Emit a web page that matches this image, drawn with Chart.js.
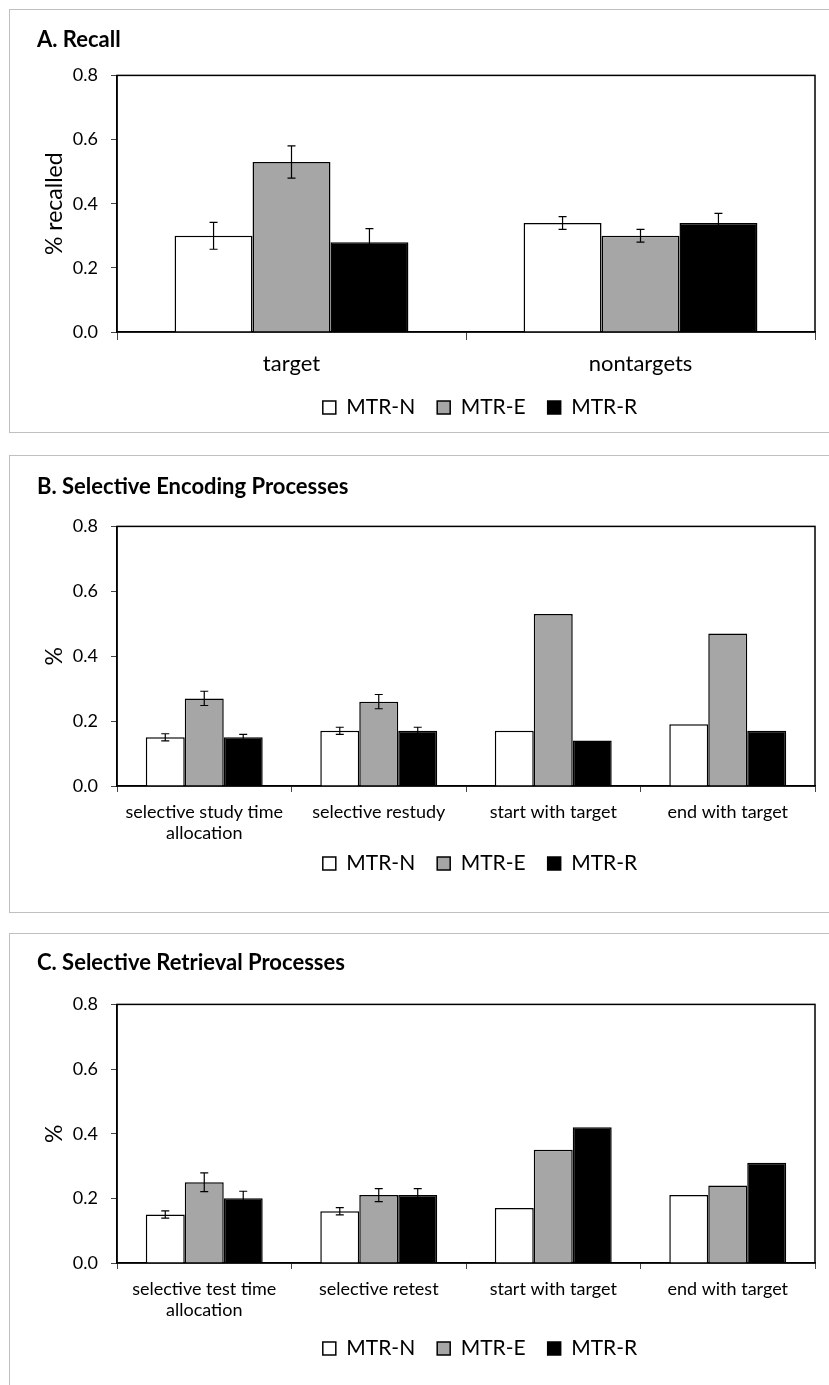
<!DOCTYPE html>
<html>
<head>
<meta charset="utf-8">
<script src="https://cdn.jsdelivr.net/npm/chart.js@4.4.1/dist/chart.umd.min.js"></script>
<style>
html, body { margin: 0; padding: 0; background: #fff; overflow: hidden; width: 829px; height: 1385px; }
.box { position: absolute; left: 9px; width: 900px; border: 1.5px solid #c0c0c0; box-sizing: border-box; }
canvas { position: absolute; left: 10px; }
</style>
</head>
<body>
<div class="box" style="top:9px;height:424px"></div>
<canvas id="chartA" width="930" height="423" style="top:9px"></canvas>
<div class="box" style="top:455px;height:458px"></div>
<canvas id="chartB" width="930" height="457" style="top:455px"></canvas>
<div class="box" style="top:933px;height:470px"></div>
<canvas id="chartC" width="930" height="452" style="top:933px"></canvas>
<script>
const groups = ['MTR-N', 'MTR-E', 'MTR-R'];
const yTicks = [0, 0.2, 0.4, 0.6, 0.8];

// A. Recall
const recallCats = ['target', 'nontargets'];
const recallN = [0.30, 0.34];
const recallE = [0.53, 0.30];
const recallR = [0.28, 0.34];
const recallErrN = [0.042, 0.02];
const recallErrE = [0.05, 0.02];
const recallErrR = [0.042, 0.03];

// B. Selective Encoding Processes
const encodeCats = [['selective study time', 'allocation'], 'selective restudy', 'start with target', 'end with target'];
const encodeN = [0.15, 0.17, 0.17, 0.19];
const encodeE = [0.27, 0.26, 0.53, 0.47];
const encodeR = [0.15, 0.17, 0.14, 0.17];
const encodeErrN = [0.011, 0.011, null, null];
const encodeErrE = [0.022, 0.022, null, null];
const encodeErrR = [0.009, 0.011, null, null];

// C. Selective Retrieval Processes
const retrieveCats = [['selective test time', 'allocation'], 'selective retest', 'start with target', 'end with target'];
const retrieveN = [0.15, 0.16, 0.17, 0.21];
const retrieveE = [0.25, 0.21, 0.35, 0.24];
const retrieveR = [0.20, 0.21, 0.42, 0.31];
const retrieveErrN = [0.011, 0.011, null, null];
const retrieveErrE = [0.029, 0.02, null, null];
const retrieveErrR = [0.022, 0.02, null, null];

const fills = ['#ffffff', '#a6a6a6', '#000000'];

Chart.defaults.font.family = 'Lato, "Open Sans", sans-serif';
Chart.defaults.color = '#1a1a1a';

// frame around the plot area, like the excel chart
const plotFrame = {
    id: 'plotFrame',
    beforeDatasetsDraw(chart) {
        const {left, top, right, bottom} = chart.chartArea;
        const ctx = chart.ctx;
        ctx.save();
        ctx.strokeStyle = '#000';
        ctx.lineWidth = 1.5;
        ctx.strokeRect(left, top, right - left, bottom - top);
        ctx.restore();
    }
};

const errorBars = {
    id: 'errorBars',
    afterDatasetsDraw(chart) {
        const ctx = chart.ctx;
        const y = chart.scales.y;
        chart.data.datasets.forEach((ds, di) => {
            if (!ds.errors) return;
            chart.getDatasetMeta(di).data.forEach((bar, i) => {
                const e = ds.errors[i];
                if (e == null) return;
                const v = ds.data[i];
                const top = y.getPixelForValue(v + e);
                const bot = y.getPixelForValue(v - e);
                ctx.save();
                ctx.strokeStyle = '#000';
                ctx.lineWidth = 1.2;
                ctx.beginPath();
                ctx.moveTo(bar.x, top); ctx.lineTo(bar.x, bot);
                ctx.moveTo(bar.x - 4, top); ctx.lineTo(bar.x + 4, top);
                ctx.moveTo(bar.x - 4, bot); ctx.lineTo(bar.x + 4, bot);
                ctx.stroke();
                ctx.restore();
            });
        });
    }
};

// nudge the legend up/down after layout (x labels need their full height)
const legendShift = {
    id: 'legendShift',
    afterLayout(chart, args, opts) {
        const l = chart.legend;
        if (!l || !opts.dy) return;
        l.top += opts.dy;
        l.bottom += opts.dy;
    }
};

function makeChart(id, p) {
    return new Chart(document.getElementById(id), {
        type: 'bar',
        data: {
            labels: p.labels,
            datasets: groups.map((g, i) => ({
                label: g,
                data: p.values[i],
                errors: p.errors[i],
                backgroundColor: fills[i],
                borderColor: '#000',
                borderWidth: 1.5,
                categoryPercentage: 0.67,
                barPercentage: 1.0
            }))
        },
        options: {
            responsive: false,
            animation: false,
            layout: { padding: { left: 27, right: 17, top: 0, bottom: p.padBottom } },
            plugins: {
                title: {
                    display: true,
                    text: p.title,
                    align: 'start',
                    color: '#000',
                    font: { size: 22, weight: 'bold', lineHeight: 1.2 },
                    padding: p.titlePad
                },
                legend: {
                    position: 'bottom',
                    labels: {
                        boxWidth: 13,
                        boxHeight: 13,
                        padding: 22,
                        color: '#000',
                        font: { size: 21 }
                    }
                },
                legendShift: { dy: p.legendDy },
                tooltip: { enabled: false }
            },
            scales: {
                x: {
                    grid: { offset: true, drawOnChartArea: false, tickLength: p.tickLen, color: '#444' },
                    border: { color: '#000', width: 1.5 },
                    ticks: {
                        autoSkip: false, maxRotation: 0, padding: p.tickPad, color: '#000',
                        font: { size: p.xFont, lineHeight: 1.2 }
                    },
                    afterFit: (s) => { s.height = p.xHeight; }
                },
                y: {
                    min: 0,
                    max: 0.8,
                    afterBuildTicks: (s) => { s.ticks = yTicks.map(v => ({ value: v })); },
                    grid: { drawOnChartArea: false, tickLength: 6, color: '#444' },
                    border: { color: '#000', width: 1.5 },
                    ticks: {
                        padding: 13, color: '#000', font: { size: 18 },
                        callback: (v) => v.toFixed(1)
                    },
                    title: {
                        display: true, text: p.yTitle, color: '#000',
                        font: { size: 23, lineHeight: 1.2 }, padding: { top: 4, bottom: 0 }
                    },
                    afterFit: (s) => { s.width = 80; }
                },
                // empty right axis so the legend centres like the original box
                y2: {
                    position: 'right',
                    grid: { display: false },
                    border: { display: false },
                    ticks: { display: false },
                    afterFit: (s) => { s.width = 108; }
                }
            }
        },
        plugins: [plotFrame, errorBars, legendShift]
    });
}

makeChart('chartA', {
    title: 'A. Recall',
    yTitle: '% recalled',
    labels: recallCats,
    values: [recallN, recallE, recallR],
    errors: [recallErrN, recallErrE, recallErrR],
    titlePad: { top: 18, bottom: 22 },
    xFont: 22, tickLen: 8, tickPad: 11, xHeight: 46, padBottom: 1, legendDy: -3
});

makeChart('chartB', {
    title: 'B. Selective Encoding Processes',
    yTitle: '%',
    labels: encodeCats,
    values: [encodeN, encodeE, encodeR],
    errors: [encodeErrN, encodeErrE, encodeErrR],
    titlePad: { top: 19, bottom: 26 },
    xFont: 18, tickLen: 6, tickPad: 9, xHeight: 60, padBottom: 13, legendDy: -15
});

makeChart('chartC', {
    title: 'C. Selective Retrieval Processes',
    yTitle: '%',
    labels: retrieveCats,
    values: [retrieveN, retrieveE, retrieveR],
    errors: [retrieveErrN, retrieveErrE, retrieveErrR],
    titlePad: { top: 17, bottom: 28 },
    xFont: 18, tickLen: 6, tickPad: 9, xHeight: 60, padBottom: 9, legendDy: -7
});
</script>
</body>
</html>
